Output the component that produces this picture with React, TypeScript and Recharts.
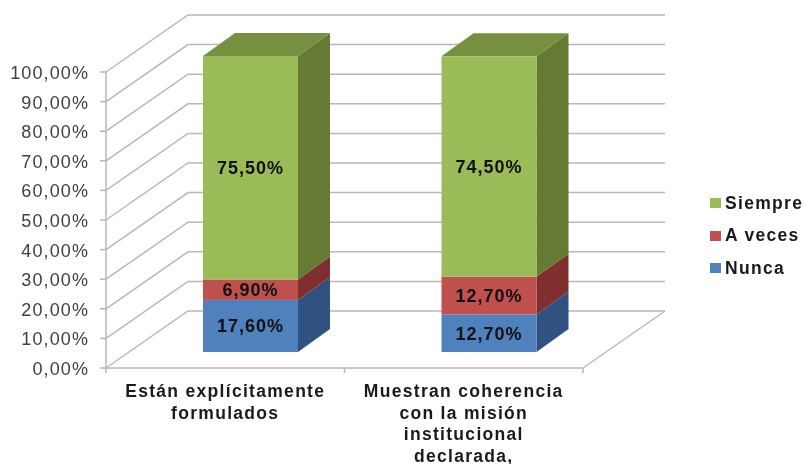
import { BarChart, Bar, XAxis, YAxis, CartesianGrid, LabelList, Legend } from 'recharts';

const categories = [
  'Están explícitamente\nformulados',
  'Muestran coherencia\ncon la misión\ninstitucional\ndeclarada,',
];
const nunca = [17.6, 12.7];
const aVeces = [6.9, 12.7];
const siempre = [75.5, 74.5];
const yTicks = [0, 10, 20, 30, 40, 50, 60, 70, 80, 90, 100];

const chartData = categories.map((category, i) => ({
  category,
  nunca: nunca[i],
  aVeces: aVeces[i],
  siempre: siempre[i],
}));

const legendItems = [
  { label: 'Siempre', color: '#9bbb59' },
  { label: 'A veces', color: '#c0504d' },
  { label: 'Nunca', color: '#4f81bd' },
];

const FONT = '"Liberation Sans", Arial, sans-serif';
const GRID = '#b8b8b8';
// 3D look: back wall and bar depth
const WALL_DX = 82;
const WALL_DY = -57;
const BAR_SHIFT_X = 25;
const BAR_SHIFT_Y = -16;
const DEPTH_X = 32;
const DEPTH_Y = -23;

const percent = (v: number) => v.toFixed(2).replace('.', ',') + '%';

function gridLine(props: any) {
  const { x1, x2, y1, key } = props;
  return (
    <polyline
      key={key}
      points={`${x1},${y1} ${x1 + WALL_DX},${y1 + WALL_DY} ${x2 + WALL_DX},${y1 + WALL_DY}`}
      fill="none"
      stroke={GRID}
      strokeWidth={1.5}
    />
  );
}

function box(front: string, side: string, top?: string) {
  return (props: any) => {
    const { x, y, width, height } = props;
    const fx = x + BAR_SHIFT_X;
    const fy = y + BAR_SHIFT_Y;
    const r = fx + width;
    const b = fy + height;
    return (
      <g>
        <polygon
          points={`${r},${fy} ${r + DEPTH_X},${fy + DEPTH_Y} ${r + DEPTH_X},${b + DEPTH_Y} ${r},${b}`}
          fill={side}
        />
        {top && (
          <polygon
            points={`${fx},${fy} ${fx + DEPTH_X},${fy + DEPTH_Y} ${r + DEPTH_X},${fy + DEPTH_Y} ${r},${fy}`}
            fill={top}
          />
        )}
        <rect x={fx} y={fy} width={width} height={height} fill={front} />
      </g>
    );
  };
}

function barLabel(props: any) {
  const { x, y, width, height, value } = props;
  return (
    <text
      x={x + BAR_SHIFT_X + width / 2}
      y={y + BAR_SHIFT_Y + height / 2}
      dy={6.5}
      textAnchor="middle"
      fontFamily={FONT}
      fontSize={18}
      fontWeight="bold"
      letterSpacing={1}
      fill="#111"
    >
      {percent(value)}
    </text>
  );
}

function YTick(props: any) {
  const { x, y, payload } = props;
  return (
    <g>
      <line x1={x + 2} x2={x + 8} y1={y} y2={y} stroke={GRID} strokeWidth={1.5} />
      <text
        x={x - 9}
        y={y}
        dy={7}
        textAnchor="end"
        fontFamily={FONT}
        fontSize={18}
        letterSpacing={1.1}
        fill="#404040"
      >
        {percent(payload.value)}
      </text>
    </g>
  );
}

const BAND = 238.5;

function XTick(props: any) {
  const { x, y, payload, index } = props;
  const lines: string[] = payload.value.split('\n');
  const axisY = y - 8;
  return (
    <g>
      {index === 0 && (
        <line x1={x - BAND / 2} x2={x - BAND / 2} y1={axisY} y2={axisY + 5} stroke={GRID} strokeWidth={1.5} />
      )}
      <line x1={x + BAND / 2} x2={x + BAND / 2} y1={axisY} y2={axisY + 5} stroke={GRID} strokeWidth={1.5} />
      {index === categories.length - 1 && (
        <line
          x1={x + BAND / 2}
          y1={axisY}
          x2={x + BAND / 2 + WALL_DX}
          y2={axisY + WALL_DY}
          stroke={GRID}
          strokeWidth={1.5}
        />
      )}
      <text
        textAnchor="middle"
        fontFamily={FONT}
        fontSize={17.5}
        fontWeight="bold"
        letterSpacing={1.3}
        fill="#1a1a1a"
      >
        {lines.map((line, i) => (
          <tspan key={i} x={x} y={axisY + 29 + i * 21.5}>
            {line}
          </tspan>
        ))}
      </text>
    </g>
  );
}

function ChartLegend() {
  return (
    <div style={{ fontFamily: FONT, fontWeight: 'bold', fontSize: 17.5, letterSpacing: 1.3, color: '#1a1a1a' }}>
      {legendItems.map((item) => (
        <div key={item.label} style={{ display: 'flex', alignItems: 'center', height: 32.5, whiteSpace: 'nowrap' }}>
          <span style={{ width: 11, height: 10, background: item.color, marginRight: 4 }} />
          {item.label}
        </div>
      ))}
    </div>
  );
}

export default function App() {
  return (
    <div style={{ position: 'absolute', left: 0, top: 0, width: 808, height: 464, filter: 'blur(0.4px)' }}>
      <BarChart
        width={808}
        height={464}
        data={chartData}
        margin={{ top: 72, right: 127, bottom: 0, left: 0 }}
        barSize={95}
      >
        <CartesianGrid horizontal={gridLine} vertical={false} />
        <XAxis
          dataKey="category"
          height={96}
          interval={0}
          stroke={GRID}
          strokeWidth={1.5}
          tickLine={false}
          tick={XTick}
        />
        <YAxis
          width={106}
          domain={[0, 100]}
          ticks={yTicks}
          interval={0}
          stroke={GRID}
          strokeWidth={1.5}
          tickLine={false}
          tick={YTick}
        />
        <Legend
          layout="vertical"
          align="right"
          verticalAlign="middle"
          content={ChartLegend}
          wrapperStyle={{ position: 'absolute', left: 710, top: 187, width: 98, height: 98, bottom: 'auto', right: 'auto' }}
        />
        <Bar dataKey="nunca" stackId="a" isAnimationActive={false} shape={box('#4f81bd', '#2f5280')}>
          <LabelList dataKey="nunca" content={barLabel} />
        </Bar>
        <Bar dataKey="aVeces" stackId="a" isAnimationActive={false} shape={box('#c0504d', '#7f302e')}>
          <LabelList dataKey="aVeces" content={barLabel} />
        </Bar>
        <Bar dataKey="siempre" stackId="a" isAnimationActive={false} shape={box('#9bbb59', '#667a36', '#77903f')}>
          <LabelList dataKey="siempre" content={barLabel} />
        </Bar>
      </BarChart>
    </div>
  );
}
